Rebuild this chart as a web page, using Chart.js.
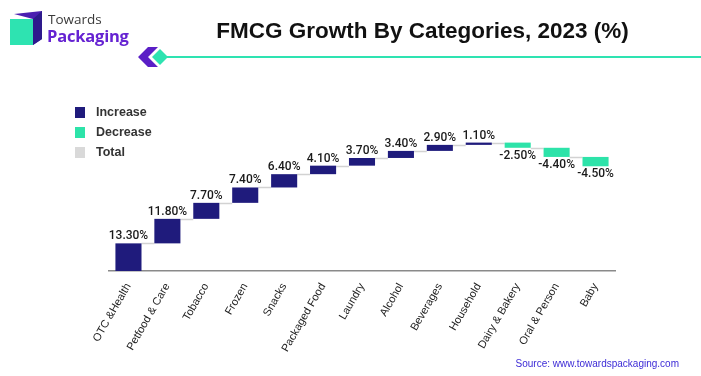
<!DOCTYPE html>
<html>
<head>
<meta charset="utf-8">
<script src="https://cdn.jsdelivr.net/npm/chart.js@4.4.0/dist/chart.umd.min.js"></script>
<style>
  body { margin: 0; background: #fff; font-family: "Liberation Sans", Arial, sans-serif; }
  #wrap { position: relative; width: 701px; height: 376px; overflow: hidden; }
  #chart { position: absolute; left: 0; top: 0; }
  .logo { position: absolute; left: 8px; top: 9px; }
  .brand1 { position: absolute; left: 48px; top: 10px; font: 13.5px "Open Sans", sans-serif; color: #3a3a3a; }
  .brand2 { position: absolute; left: 47px; top: 24px; font: bold 16.5px "Open Sans", sans-serif; color: #6522d2; letter-spacing: -0.2px; }
  .title { position: absolute; left: 150px; width: 545px; top: 18px; text-align: center; font: bold 22.5px "Liberation Sans", Arial, sans-serif; color: #111; }
  .deco { position: absolute; left: 136px; top: 45px; }
  .legend { position: absolute; left: 75px; top: 105px; font: bold 12.5px "Liberation Sans", Arial, sans-serif; color: #333; }
  .legend div { height: 20px; line-height: 14px; }
  .legend span { display: inline-block; width: 10px; height: 11px; margin-right: 11px; vertical-align: -2px; }
  .source { position: absolute; right: 22px; top: 358px; font: 10px "Liberation Sans", Arial, sans-serif; color: #3d2bd6; }
</style>
</head>
<body>
<div id="wrap">
  <canvas id="chart" width="701" height="376"></canvas>

  <svg class="logo" width="40" height="40" viewBox="0 0 40 40">
    <polygon points="6,5 34,2 34,30 25,36 25,10" fill="#4b1fb0"/>
    <polygon points="25,10 34,2 34,30 25,36" fill="#2e1a8c"/>
    <rect x="2" y="10" width="23" height="26" fill="#2ee3b1"/>
  </svg>
  <div class="brand1">Towards</div>
  <div class="brand2">Packaging</div>

  <div class="title">FMCG Growth By Categories, 2023 (%)</div>
  <svg class="deco" width="565" height="24" viewBox="0 0 565 24">
    <polygon points="12,2 22,2 12,12 22,22 12,22 2,12" fill="#5a1fc6"/>
    <polygon points="24,4 32,12 24,20 16,12" fill="#2ee3b1"/>
    <rect x="30" y="11" width="535" height="2" fill="#2ee3b1"/>
  </svg>

  <div class="legend">
    <div><span style="background:#1f1b7c"></span>Increase</div>
    <div><span style="background:#2de3a9"></span>Decrease</div>
    <div><span style="background:#d9d9d9"></span>Total</div>
  </div>

  <div class="source">Source: www.towardspackaging.com</div>
</div>

<script>
const categories = ['OTC &Health', 'Petfood & Care', 'Tobacco', 'Frozen', 'Snacks', 'Packaged Food',
  'Laundry', 'Alcohol', 'Beverages', 'Household', 'Dairy & Bakery', 'Oral & Person', 'Baby'];
const growth = [13.3, 11.8, 7.7, 7.4, 6.4, 4.1, 3.7, 3.4, 2.9, 1.1, -2.5, -4.4, -4.5];

const increaseColor = '#1f1b7c';
const decreaseColor = '#2de3a9';
const totalColor = '#d9d9d9';

// running totals for the waterfall
let running = 0;
const ranges = growth.map(v => {
    const start = running;
    running += v;
    return [start, running];
});
const increaseData = ranges.map((r, i) => growth[i] >= 0 ? r : null);
const decreaseData = ranges.map((r, i) => growth[i] < 0 ? r : null);

function barFor(chart, i) {
    return chart.getDatasetMeta(growth[i] >= 0 ? 0 : 1).data[i];
}

const connectors = {
    id: 'connectors',
    beforeDatasetsDraw(chart) {
        const ctx = chart.ctx;
        const y = chart.scales.y;
        ctx.save();
        ctx.strokeStyle = '#d2d2d2';
        ctx.lineWidth = 1.5;
        for (let i = 0; i < growth.length - 1; i++) {
            const a = barFor(chart, i);
            const b = barFor(chart, i + 1);
            const py = Math.round(y.getPixelForValue(ranges[i][1])) + 0.5;
            ctx.beginPath();
            ctx.moveTo(a.x + a.width / 2, py);
            ctx.lineTo(b.x - b.width / 2, py);
            ctx.stroke();
        }
        ctx.restore();
    }
};

const valueLabels = {
    id: 'valueLabels',
    afterDatasetsDraw(chart) {
        const ctx = chart.ctx;
        ctx.save();
        ctx.font = '500 12px Roboto, "Liberation Sans", sans-serif';
        ctx.fillStyle = '#1a1a1a';
        ctx.textAlign = 'center';
        growth.forEach((v, i) => {
            const bar = barFor(chart, i);
            const txt = v.toFixed(2) + '%';
            if (v >= 0) {
                ctx.textBaseline = 'bottom';
                ctx.fillText(txt, bar.x, Math.min(bar.y, bar.base) - 1);
            } else {
                ctx.textBaseline = 'top';
                ctx.fillText(txt, bar.x, Math.max(bar.y, bar.base) + 2);
            }
        });
        ctx.restore();
    }
};

new Chart(document.getElementById('chart'), {
    type: 'bar',
    data: {
        labels: categories,
        datasets: [
            { label: 'Increase', data: increaseData, backgroundColor: increaseColor },
            { label: 'Decrease', data: decreaseData, backgroundColor: decreaseColor },
            { label: 'Total', data: [], backgroundColor: totalColor }
        ]
    },
    options: {
        responsive: false,
        animation: false,
        devicePixelRatio: 1,
        layout: { padding: { left: 109, right: 86, top: 84, bottom: 0 } },
        datasets: { bar: { grouped: false, categoryPercentage: 1, barPercentage: 0.67 } },
        plugins: { legend: { display: false }, tooltip: { enabled: false } },
        scales: {
            x: {
                grid: { display: false },
                border: { display: true, color: '#8a8a8a', width: 1.5 },
                ticks: {
                    color: '#222',
                    font: { family: '"Liberation Sans", Arial, sans-serif', size: 11 },
                    minRotation: 60,
                    maxRotation: 60,
                    autoSkip: false,
                    padding: 2
                },
                afterFit(scale) { scale.height = 105; }
            },
            y: { display: false, min: 0, max: 90 }
        }
    },
    plugins: [connectors, valueLabels]
});
</script>
</body>
</html>
